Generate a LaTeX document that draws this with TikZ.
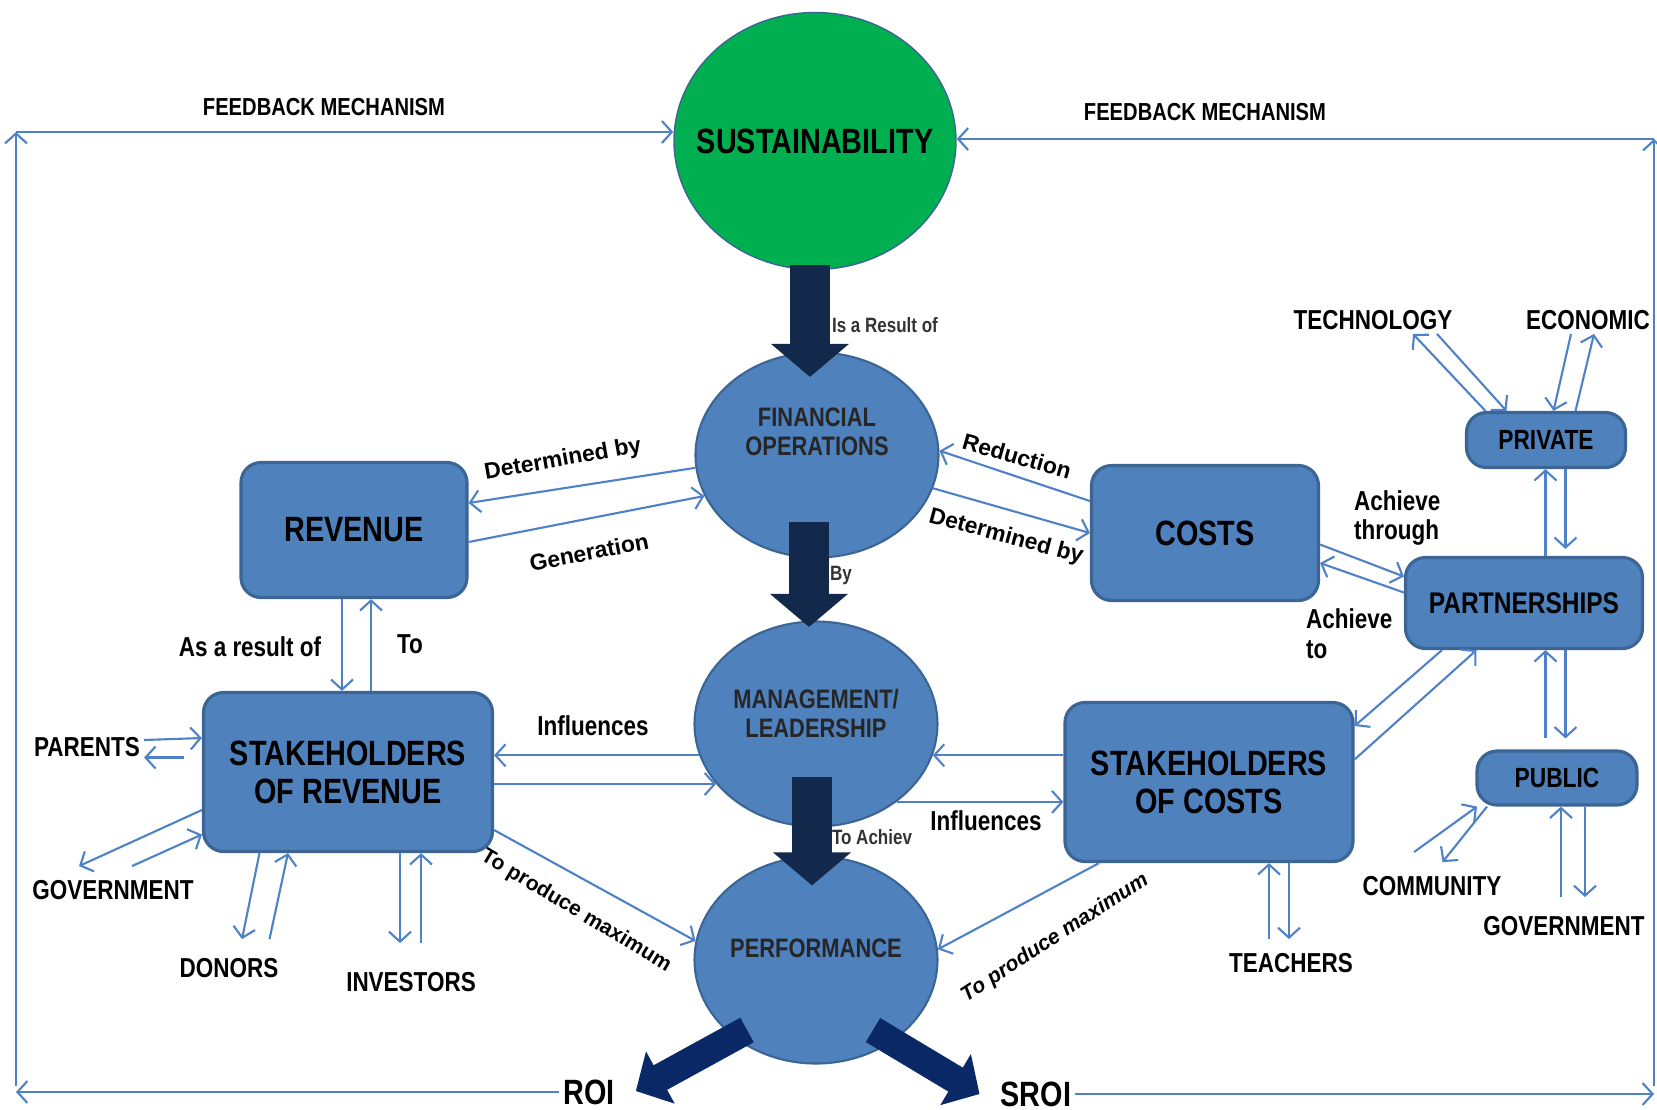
\documentclass[tikz,border=0pt]{standalone}
\usepackage{fontspec}
\setmainfont{Liberation Sans}
\newfontfamily\narrowfont{Liberation Sans}[FakeStretch=0.82]
\usetikzlibrary{arrows.meta,shapes.geometric,positioning}
\definecolor{boxblue}{HTML}{4F81BD}
\definecolor{boxline}{HTML}{3A6595}
\definecolor{linkblue}{HTML}{4F81C7}
\definecolor{sustgreen}{HTML}{00B050}
\definecolor{shaftnavy}{HTML}{13294B}
\definecolor{roinavy}{HTML}{0A2866}

\begin{document}
\begin{tikzpicture}[x=0.1mm,y=-0.1mm,
   blob/.style={ellipse,draw=boxline,line width=0.6pt,fill=boxblue,inner sep=0pt,align=center,
     text=black!85,font=\narrowfont\bfseries\fontsize{7.6}{8.2}\selectfont},
   block/.style={rounded corners=2mm,draw=boxline,line width=0.9pt,fill=boxblue,align=center,inner sep=0pt,
     font=\narrowfont\bfseries\fontsize{10}{10.8}\selectfont},
   tag/.style={inner sep=1pt,align=left,font=\narrowfont\bfseries\fontsize{7.8}{8.5}\selectfont},
   slant/.style={inner sep=1pt,font=\bfseries\fontsize{6.5}{8}\selectfont},
   tiny/.style={inner sep=1pt,text=black!80,font=\narrowfont\bfseries\fontsize{5.9}{7}\selectfont},
   link/.style={draw=linkblue,line width=0.6pt,-{Straight Barb[length=1mm,width=2.2mm]}},
   bigdown/.style={draw=shaftnavy,line width=4mm,-{Triangle[length=3.3mm,width=7.6mm]}},
   bigout/.style={draw=roinavy,line width=2.8mm,-{Triangle[length=2.8mm,width=5.8mm]}}]
   \useasboundingbox (0,0) rectangle (1657,1109);

   % main chain
   \node[ellipse,draw=boxline,fill=sustgreen,minimum width=28.2mm,minimum height=25.7mm,inner sep=0pt,
     font=\narrowfont\bfseries\fontsize{10}{12}\selectfont] (sust) at (815,141) {\makebox[0pt]{SUSTAINABILITY}};
   \node[blob,minimum width=24.3mm,minimum height=20.5mm] (fin) at (817,455)
     {\raisebox{1.3mm}[0pt][0pt]{\begin{tabular}{@{}c@{}}FINANCIAL\\OPERATIONS\end{tabular}}};
   \node[blob,minimum width=24.3mm,minimum height=20.5mm] (mgmt) at (816,724)
     {\raisebox{0mm}[0pt][0pt]{\begin{tabular}{@{}c@{}}MANAGEMENT/\\LEADERSHIP\end{tabular}}};
   \node[blob,minimum width=24.3mm,minimum height=20.7mm] (perf) at (816,960)
     {\raisebox{0.25mm}[0pt][0pt]{PERFORMANCE}};

   \node[block,minimum width=22.6mm,minimum height=13.5mm] (rev) at (354,530) {REVENUE};
   \node[block,minimum width=28.9mm,minimum height=15.9mm] (sor) at (348,772) {STAKEHOLDERS\\OF REVENUE};
   \node[block,minimum width=22.7mm,minimum height=13.5mm] (costs) at (1205,533) {COSTS};
   \node[block,minimum width=28.8mm,minimum height=15.9mm] (soc) at (1209,782) {STAKEHOLDERS\\OF COSTS};
   \node[block,minimum width=23.7mm,minimum height=9.1mm,font=\narrowfont\bfseries\fontsize{8.5}{10}\selectfont] (part) at (1524,603) {PARTNERSHIPS};
   \node[block,minimum width=15.9mm,minimum height=5.5mm,font=\narrowfont\bfseries\fontsize{7.9}{9}\selectfont] (priv) at (1546,440) {PRIVATE};
   \node[block,minimum width=16mm,minimum height=5.4mm,font=\narrowfont\bfseries\fontsize{7.9}{9}\selectfont] (pub) at (1557,778) {PUBLIC};

   % outer labels
   \node[tag,font=\narrowfont\bfseries\fontsize{7}{8}\selectfont] (fbl) at (324,107) {FEEDBACK MECHANISM};
   \node[tag,font=\narrowfont\bfseries\fontsize{7}{8}\selectfont] (fbr) at (1205,112) {FEEDBACK MECHANISM};
   \node[tag] (tech) at (1373,320) {TECHNOLOGY};
   \node[tag] (econ) at (1588,320) {ECONOMIC};
   \node[tag,anchor=west] (thru) at (1350,518) {Achieve\\through};
   \node[tag,anchor=west] (achto) at (1302,634) {Achieve\\to};
   \node[tag] (parents) at (87,747) {PARENTS};
   \node[tag] (govl) at (113,890) {GOVERNMENT};
   \node[tag] (donors) at (229,968) {DONORS};
   \node[tag] (inv) at (411,982) {INVESTORS};
   \node[tag] (comm) at (1432,886) {COMMUNITY};
   \node[tag] (govr) at (1564,926) {GOVERNMENT};
   \node[tag] (teach) at (1291,963) {TEACHERS};
   \node[tag] (infl) at (593,726) {Influences};
   \node[tag] (infr) at (986,821) {Influences};
   \node[tag] (asres) at (250,647) {As a result of};
   \node[tag] (to) at (410,644) {To};
   \node[slant,rotate=10] (detl) at (563,460) {Determined by};
   \node[slant,rotate=11] (gen) at (589,552) {Generation};
   \node[slant,rotate=-16] (red) at (1017,456) {Reduction};
   \node[slant,rotate=-15] (detr) at (1006,537) {Determined by};
   \node[slant,rotate=-31,font=\bfseries\fontsize{6}{7}\selectfont] (prodl) at (576,911) {To produce maximum};
   \node[slant,rotate=33,font=\bfseries\itshape\fontsize{6}{7}\selectfont] (prodr) at (1055,938) {To produce maximum};
   \node[tiny] (isres) at (885,325) {Is a Result of};
   \node[tiny] (by) at (841,576) {By};
   \node[tiny] (toach) at (872,837) {To Achiev};
   \node[tag,font=\narrowfont\bfseries\fontsize{10}{12}\selectfont] (roi) at (589,1092) {ROI};
   \node[tag,font=\narrowfont\bfseries\fontsize{10}{12}\selectfont] (sroi) at (1036,1094) {SROI};

   % thick arrows
   \draw[bigdown] ([xshift=-0.5mm,yshift=0.5mm]sust.south) -- ([xshift=-0.7mm,yshift=-2.55mm]fin.north);
   \draw[bigdown] ([xshift=-0.8mm,yshift=-6.7mm]fin.center) -- ([xshift=-0.7mm,yshift=-0.65mm]mgmt.north);
   \draw[bigdown] ([xshift=-0.4mm,yshift=-5.3mm]mgmt.center) -- ([xshift=-0.4mm,yshift=-3mm]perf.north);
   \draw[bigout] ([shift={(-6.9mm,-7mm)}]perf.center) -- ([shift={(1.7mm,0.1mm)}]roi.east);
   \draw[bigout] ([shift={(5.7mm,-7mm)}]perf.center) -- ([shift={(-1.7mm,0mm)}]sroi.west);

   % feedback frame
   \coordinate (tl) at (16,132);
   \coordinate (bl) at (16,1086);
   \coordinate (tr) at (1654,139);
   \coordinate (br) at (1654,1086);
   \draw[link] (roi.west) -- (roi.west -| bl);
   \draw[link] (bl) -- (tl);
   \draw[link] (tl) -- (tl -| sust.west);
   \draw[link] (sroi.east) -- (sroi.east -| br);
   \draw[link] (br) -- (tr);
   \draw[link] (tr) -- (tr -| sust.east);

   % revenue side
   \draw[link] (fin.186) -- ([yshift=2.7mm]rev.east);
   \draw[link] ([yshift=-1.2mm]rev.east) -- (fin.200);
   \draw[link] ([xshift=-1.2mm]rev.south) -- ([xshift=-1.2mm]rev.south |- sor.north);
   \draw[link] ([xshift=1.7mm]rev.south |- sor.north) -- ([xshift=1.7mm]rev.south);
   \draw[link] (mgmt.195) -- (mgmt.195 -| sor.east);
   \draw[link] (mgmt.211 -| sor.east) -- (mgmt.211);
   \draw[link] ([yshift=-5.8mm]sor.east) -- (perf.171);
   \draw[link] ([yshift=0.7mm]parents.east) -- ([yshift=3.4mm]sor.west);
   \draw[link,shorten <=1.8mm] ([yshift=1.45mm]sor.west) -- ([yshift=1.45mm]sor.west -| parents.east);
   \draw[link] ([yshift=-3.8mm]sor.west) -- ([shift={(-3.4mm,1mm)}]govl.north);
   \draw[link] ([shift={(1.9mm,1mm)}]govl.north) -- ([yshift=-6.25mm]sor.west);
   \draw[link] ([xshift=-8.85mm]sor.south) -- ([shift={(1.3mm,1.5mm)}]donors.north);
   \draw[link] ([shift={(4.05mm,1.5mm)}]donors.north) -- ([xshift=-6mm]sor.south);
   \draw[link] ([xshift=5.2mm]sor.south) -- ([xshift=5.2mm,yshift=2.5mm]sor.south |- inv.north);
   \draw[link] ([xshift=7.3mm,yshift=2.5mm]sor.south |- inv.north) -- ([xshift=7.3mm]sor.south);

   % cost side
   \draw[link] ([yshift=3.2mm]costs.west) -- (fin.2);
   \draw[link] (fin.-16) -- (costs.west);
   \draw[link] (mgmt.345 -| soc.west) -- (mgmt.345);
   \draw[link] (mgmt.316) -- (mgmt.316 -| soc.west);
   \draw[link] ([xshift=-11mm]soc.south) -- (perf.5);
   \draw[link] ([yshift=-1.15mm]costs.east) -- ([yshift=2.65mm]part.west);
   \draw[link] ([yshift=1.05mm]part.west) -- ([yshift=-3mm]costs.east);
   \draw[link] ([xshift=-8.2mm]part.south) -- ([yshift=5.6mm]soc.east);
   \draw[link] ([yshift=2.25mm]soc.east) -- ([xshift=-4.75mm]part.south);
   \draw[link] ([xshift=6mm,yshift=1mm]soc.south |- teach.north) -- ([xshift=6mm]soc.south);
   \draw[link] ([xshift=8mm]soc.south) -- ([xshift=8mm,yshift=1mm]soc.south |- teach.north);

   % partnerships
   \draw[link] ([xshift=2.15mm]part.north) -- ([xshift=2.15mm]part.north |- priv.south);
   \draw[link] ([xshift=4.15mm]part.north |- priv.south) -- ([xshift=4.15mm,yshift=0.7mm]part.north);
   \draw[link] ([xshift=2.15mm,yshift=1.1mm]part.south |- pub.north) -- ([xshift=2.15mm]part.south);
   \draw[link] ([xshift=4.15mm]part.south) -- ([xshift=4.15mm,yshift=1.1mm]part.south |- pub.north);
   \draw[link] ([xshift=6.4mm]tech.south) -- ([xshift=-3.95mm]priv.north);
   \draw[link] ([xshift=-6.05mm]priv.north) -- ([xshift=4mm]tech.south);
   \draw[link] ([xshift=-1.7mm]econ.south) -- ([xshift=0.75mm]priv.north);
   \draw[link] ([xshift=2.95mm]priv.north) -- ([xshift=0.6mm]econ.south);
   \draw[link] ([shift={(-1.8mm,2mm)}]comm.north) -- ([xshift=-8mm]pub.south);
   \draw[link] ([xshift=-7mm]pub.south) -- ([shift={(1.05mm,1mm)}]comm.north);
   \draw[link] ([xshift=0.4mm,yshift=1.5mm]pub.south |- govr.north) -- ([xshift=0.4mm]pub.south);
   \draw[link] ([xshift=2.8mm]pub.south) -- ([xshift=2.8mm,yshift=1.5mm]pub.south |- govr.north);
\end{tikzpicture}
\end{document}
